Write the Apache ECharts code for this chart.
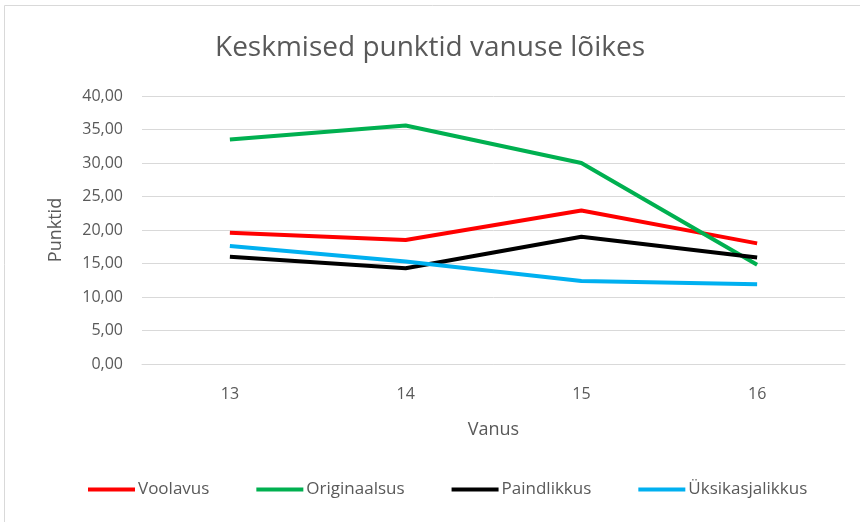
<!DOCTYPE html>
<html>
<head>
<meta charset="utf-8">
<script src="https://cdn.jsdelivr.net/npm/echarts@6/dist/echarts.min.js"></script>
<style>
html, body { margin: 0; padding: 0; background: #fff; }
#main { width: 860px; height: 522px; }
</style>
</head>
<body>
<div id="main"></div>
<script>
var ages = ['13', '14', '15', '16'];
var voolavus = [19.6, 18.5, 22.9, 18.0];
var originaalsus = [33.5, 35.6, 30.0, 14.8];
var paindlikkus = [16.0, 14.3, 19.0, 15.9];
var yksikasjalikkus = [17.6, 15.3, 12.4, 11.9];

var fontName = "'Open Sans', sans-serif";
var textGrey = '#595959';

function line(name, data, color) {
	return {
		name: name,
		type: 'line',
		data: data,
		symbol: 'none',
		lineStyle: { color: color, width: 4 },
		itemStyle: { color: color }
	};
}

var chart = echarts.init(document.getElementById('main'));
chart.setOption({
	animation: false,
	textStyle: { fontFamily: fontName },
	title: {
		text: 'Keskmised punktid vanuse lõikes',
		left: 'center',
		top: 29,
		textStyle: { fontFamily: fontName, fontSize: 28, fontWeight: 'normal', color: textGrey }
	},
	graphic: [{
		type: 'rect',
		shape: { x: 4.5, y: 5.5, width: 900, height: 600 },
		style: { fill: 'none', stroke: '#d9d9d9', lineWidth: 1 }
	}],
	grid: { left: 142, right: 15, top: 96, bottom: 158 },
	legend: {
		bottom: 19,
		left: 83,
		icon: 'rect',
		itemWidth: 47,
		itemHeight: 4,
		itemGap: 47,
		textStyle: { fontFamily: fontName, fontSize: 17, color: textGrey, padding: [0, 0, 0, -2] },
		data: ['Voolavus', 'Originaalsus', 'Paindlikkus', 'Üksikasjalikkus']
	},
	xAxis: {
		type: 'category',
		data: ages,
		boundaryGap: true,
		name: 'Vanus',
		nameLocation: 'middle',
		nameGap: 57,
		nameTextStyle: { fontSize: 18, color: textGrey },
		axisLine: { lineStyle: { color: '#d9d9d9' } },
		axisTick: { show: false },
		axisLabel: { fontSize: 16, color: textGrey, margin: 22 }
	},
	yAxis: {
		type: 'value',
		min: 0,
		max: 40,
		interval: 5,
		name: 'Punktid',
		nameLocation: 'middle',
		nameGap: 77,
		nameTextStyle: { fontSize: 18, color: textGrey },
		axisLine: { show: false },
		axisTick: { show: false },
		splitLine: { lineStyle: { color: '#d9d9d9' } },
		axisLabel: {
			fontSize: 16,
			color: textGrey,
			margin: 19,
			formatter: function (v) { return v.toFixed(2).replace('.', ','); }
		}
	},
	series: [
		line('Voolavus', voolavus, '#ff0000'),
		line('Originaalsus', originaalsus, '#00b050'),
		line('Paindlikkus', paindlikkus, '#000000'),
		line('Üksikasjalikkus', yksikasjalikkus, '#00b0f0')
	]
});
</script>
</body>
</html>
